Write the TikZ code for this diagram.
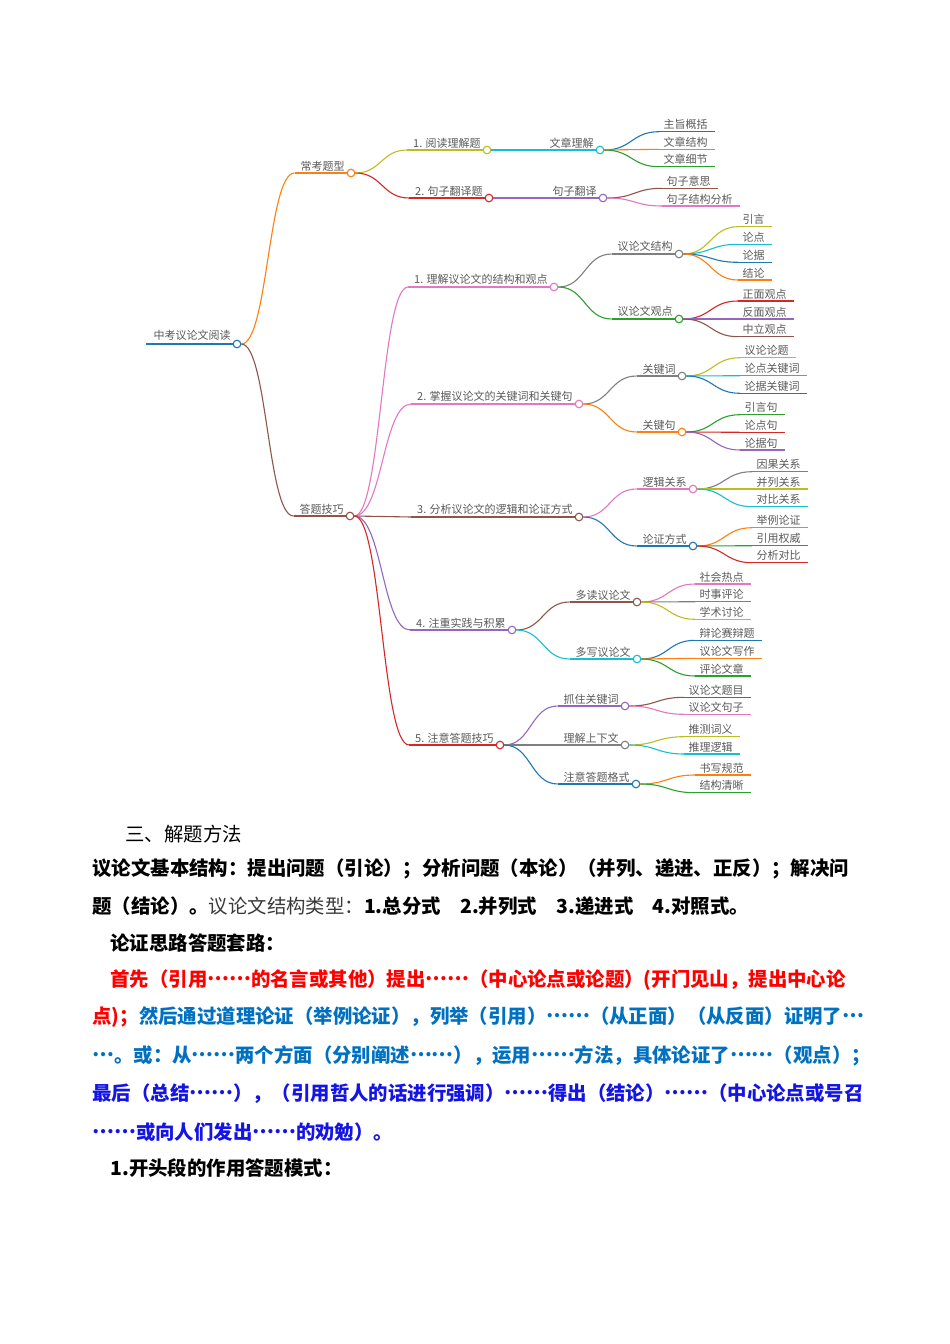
\documentclass[tikz,border=0pt]{standalone}
\usepackage{fontspec}
\setmainfont{Noto Sans CJK SC}
\newfontfamily\cjk{Noto Sans CJK SC}
\newcommand{\ellip}{\raisebox{0.32em}{…}}
\usepackage{tikz}
\usetikzlibrary{positioning, calc}
\definecolor{mmblue}{HTML}{1F77B4}
\definecolor{mmorange}{HTML}{FF7F0E}
\definecolor{mmgreen}{HTML}{2CA02C}
\definecolor{mmred}{HTML}{D62728}
\definecolor{mmpurple}{HTML}{9467BD}
\definecolor{mmbrown}{HTML}{8C564B}
\definecolor{mmpink}{HTML}{E377C2}
\definecolor{mmgray}{HTML}{7F7F7F}
\definecolor{mmolive}{HTML}{BCBD22}
\definecolor{mmcyan}{HTML}{17BECF}
\definecolor{mmtext}{HTML}{5A5A5A}
\definecolor{bluetext}{HTML}{0070C0}
\definecolor{deepblue}{HTML}{1414E6}
\definecolor{softblack}{HTML}{3A3A3A}

% curved branch from a parent dot to the start of a child line
\newcommand{\mmlink}[3]{%
  \path ($(#1.east)!0.5!(#2)$) coordinate (mid);
  \draw[#3] (#1.east) .. controls (mid |- #1.east) and (mid |- #2) .. (#2);}
% topic with label, underline and dot
\newcommand{\mmtopic}[5]{%
  \node[dot, draw=#4] (#1) at (#2,#3) {};
  \node[mmlabel, anchor=south east] (#1t) at (#1.west) {#5};
  \coordinate (#1s) at ([xshift=-4pt]#1t.south west);
  \draw[#4] (#1s) -- (#1.west);}

\begin{document}
\begin{tikzpicture}[x=1pt, y=-1pt, line width=1.1pt,
    dot/.style={circle, fill=white, inner sep=0pt, minimum size=7.6pt},
    mmlabel/.style={font=\cjk\fontsize{11}{13}\selectfont, text=mmtext, inner xsep=1.5pt, inner ysep=1.5pt},
    leaf/.style={mmlabel, anchor=south west, inner xsep=4pt},
    para/.style={anchor=west, inner sep=0pt, font=\cjk\fontsize{19.4}{23}\selectfont}]
    \useasboundingbox (0,0) rectangle (950,1344);
    \fill[white] (0,0) rectangle (950,1344);

    % Root
    \node[dot, draw=mmblue] (root) at (237,344) {};
    \node[mmlabel, anchor=south east] (roott) at ([yshift=1pt]root.west) {中考议论文阅读};
    \draw[mmblue, line width=2.8pt] (146,344) -- (root.west);

    % First level
    \mmtopic{ckt}{351}{173}{mmorange}{常考题型}
    \mmtopic{dtjq}{350}{516}{mmbrown}{答题技巧}
    \mmlink{root}{ckts}{mmorange}
    \mmlink{root}{dtjqs}{mmbrown}

    % Question types
    \mmtopic{ydlj}{487}{150}{mmolive}{1. 阅读理解题}
    \mmtopic{jzfy}{489}{198}{mmred}{2. 句子翻译题}
    \mmlink{ckt}{ydljs}{mmolive}
    \mmlink{ckt}{jzfys}{mmred}
    \mmtopic{wzlj}{600}{150}{mmcyan}{文章理解}
    \mmtopic{jzfyb}{603}{198}{mmpurple}{句子翻译}
    \mmlink{ydlj}{wzljs}{mmcyan}
    \mmlink{jzfy}{jzfybs}{mmpurple}
    \foreach \n/\y/\c/\t in {a1/131.7/mmblue/主旨概括, a2/149.3/mmorange/文章结构, a3/166.7/mmgreen/文章细节}{
        \node[leaf] (\n) at (659,\y) {\t};
        \draw[\c] (\n.south west) -- ([xshift=3pt]\n.south east);
        \mmlink{wzlj}{\n.south west}{\c}
    }
    \foreach \n/\y/\c/\t in {b1/188.3/mmbrown/句子意思, b2/206/mmpink/句子结构分析}{
        \node[leaf] (\n) at (662,\y) {\t};
        \draw[\c] (\n.south west) -- ([xshift=3pt]\n.south east);
        \mmlink{jzfyb}{\n.south west}{\c}
    }

    % Answering skills
    \mmtopic{lj1}{554}{287}{mmpink}{1. 理解议论文的结构和观点}
    \mmtopic{lj2}{579}{404}{mmpink}{2. 掌握议论文的关键词和关键句}
    \mmtopic{lj3}{579}{517}{mmbrown}{3. 分析议论文的逻辑和论证方式}
    \mmtopic{lj4}{512}{630}{mmpurple}{4. 注重实践与积累}
    \mmtopic{lj5}{500}{745}{mmred}{5. 注意答题技巧}
    \foreach \k/\c in {lj1/mmpink, lj2/mmpink, lj3/mmbrown, lj4/mmpurple, lj5/mmred}{
        \mmlink{dtjq}{\k s}{\c}
    }

    % 1. structure and viewpoints
    \mmtopic{jg}{679}{254}{mmgray}{议论文结构}
    \mmtopic{gd}{679}{319}{mmgreen}{议论文观点}
    \mmlink{lj1}{jgs}{mmgray}
    \mmlink{lj1}{gds}{mmgreen}
    \foreach \n/\y/\c/\t in {c1/226.7/mmolive/引言, c2/244.3/mmcyan/论点, c3/262.3/mmblue/论据, c4/280/mmorange/结论}{
        \node[leaf] (\n) at (738,\y) {\t};
        \draw[\c] (\n.south west) -- ([xshift=3pt]\n.south east);
        \mmlink{jg}{\n.south west}{\c}
    }
    \foreach \n/\y/\c/\t in {d1/301/mmred/正面观点, d2/319/mmpurple/反面观点, d3/336.7/mmbrown/中立观点}{
        \node[leaf] (\n) at (738,\y) {\t};
        \draw[\c] (\n.south west) -- ([xshift=3pt]\n.south east);
        \mmlink{gd}{\n.south west}{\c}
    }

    % 2. key words and sentences
    \mmtopic{gjc}{682}{376}{mmgray}{关键词}
    \mmtopic{gjj}{682}{432}{mmorange}{关键句}
    \mmlink{lj2}{gjcs}{mmgray}
    \mmlink{lj2}{gjjs}{mmorange}
    \foreach \n/\y/\c/\t in {e1/357.7/mmolive/议论论题, e2/375.7/mmcyan/论点关键词, e3/393.3/mmblue/论据关键词}{
        \node[leaf] (\n) at (740,\y) {\t};
        \draw[\c] (\n.south west) -- ([xshift=3pt]\n.south east);
        \mmlink{gjc}{\n.south west}{\c}
    }
    \foreach \n/\y/\c/\t in {f1/414.7/mmgreen/引言句, f2/432.3/mmred/论点句, f3/450/mmpurple/论据句}{
        \node[leaf] (\n) at (740,\y) {\t};
        \draw[\c] (\n.south west) -- ([xshift=3pt]\n.south east);
        \mmlink{gjj}{\n.south west}{\c}
    }

    % 3. logic and argument
    \mmtopic{ljgx}{693}{489}{mmpink}{逻辑关系}
    \mmtopic{lzfs}{693}{546}{mmblue}{论证方式}
    \mmlink{lj3}{ljgxs}{mmpink}
    \mmlink{lj3}{lzfss}{mmblue}
    \foreach \n/\y/\c/\t in {g1/471.7/mmgray/因果关系, g2/489/mmolive/并列关系, g3/506.7/mmcyan/对比关系}{
        \node[leaf] (\n) at (752,\y) {\t};
        \draw[\c] (\n.south west) -- ([xshift=3pt]\n.south east);
        \mmlink{ljgx}{\n.south west}{\c}
    }
    \foreach \n/\y/\c/\t in {h1/527.7/mmorange/举例论证, h2/545.7/mmgreen/引用权威, h3/562.7/mmred/分析对比}{
        \node[leaf] (\n) at (752,\y) {\t};
        \draw[\c] (\n.south west) -- ([xshift=3pt]\n.south east);
        \mmlink{lzfs}{\n.south west}{\c}
    }

    % 4. practice
    \mmtopic{dd}{637}{602}{mmbrown}{多读议论文}
    \mmtopic{dx}{637}{659}{mmcyan}{多写议论文}
    \mmlink{lj4}{dds}{mmbrown}
    \mmlink{lj4}{dxs}{mmcyan}
    \foreach \n/\y/\c/\t in {i1/584/mmpink/社会热点, i2/601.7/mmgray/时事评论, i3/619.3/mmolive/学术讨论}{
        \node[leaf] (\n) at (695,\y) {\t};
        \draw[\c] (\n.south west) -- ([xshift=3pt]\n.south east);
        \mmlink{dd}{\n.south west}{\c}
    }
    \foreach \n/\y/\c/\t in {j1/640.3/mmblue/辩论赛辩题, j2/658.3/mmorange/议论文写作, j3/676/mmgreen/评论文章}{
        \node[leaf] (\n) at (695,\y) {\t};
        \draw[\c] (\n.south west) -- ([xshift=3pt]\n.south east);
        \mmlink{dx}{\n.south west}{\c}
    }

    % 5. answering
    \mmtopic{zz}{625}{706}{mmpurple}{抓住关键词}
    \mmtopic{lj}{625}{745}{mmgray}{理解上下文}
    \mmtopic{gs}{636}{784}{mmblue}{注意答题格式}
    \mmlink{lj5}{zzs}{mmpurple}
    \mmlink{lj5}{ljs}{mmgray}
    \mmlink{lj5}{gss}{mmblue}
    \foreach \n/\y/\c/\t in {k1/697.3/mmbrown/议论文题目, k2/714.3/mmpink/议论文句子}{
        \node[leaf] (\n) at (684,\y) {\t};
        \draw[\c] (\n.south west) -- ([xshift=3pt]\n.south east);
        \mmlink{zz}{\n.south west}{\c}
    }
    \foreach \n/\y/\c/\t in {l1/736.7/mmolive/推测词义, l2/754/mmcyan/推理逻辑}{
        \node[leaf] (\n) at (684,\y) {\t};
        \draw[\c] (\n.south west) -- ([xshift=3pt]\n.south east);
        \mmlink{lj}{\n.south west}{\c}
    }
    \foreach \n/\y/\c/\t in {m1/775/mmorange/书写规范, m2/792.7/mmgreen/结构清晰}{
        \node[leaf] (\n) at (695,\y) {\t};
        \draw[\c] (\n.south west) -- ([xshift=3pt]\n.south east);
        \mmlink{gs}{\n.south west}{\c}
    }

    % Text below the map
    \node[para] (p0) at (125,834) {三、解题方法};
    \node[para] (p1) at (92,869) {\bfseries 议论文基本结构：提出问题（引论）；分析问题（本论）（并列、递进、正反）；解决问};
    \node[para] (p2) at (92,906) {{\bfseries 题（结论）。}{\color{softblack}议论文结构类型：}{\bfseries 1.总分式\hspace{1em}2.并列式\hspace{1em}3.递进式\hspace{1em}4.对照式。}};
    \node[para] (p3) at (110,943) {\bfseries 论证思路答题套路：};
    \node[para, text=red] (p4) at (110,980) {\bfseries 首先（引用\ellip\ellip 的名言或其他）提出\ellip\ellip（中心论点或论题）(开门见山，提出中心论};
    \node[para] (p5) at (92,1017) {\bfseries{\color{red}点)；}{\color{bluetext}然后通过道理论证（举例论证），列举（引用）\ellip\ellip（从正面）（从反面）证明了\ellip}};
    \node[para, text=bluetext] (p6) at (92,1056) {\bfseries \ellip 。或：从\ellip\ellip 两个方面（分别阐述\ellip\ellip），运用\ellip\ellip 方法，具体论证了\ellip\ellip（观点）；};
    \node[para, text=deepblue] (p7) at (92,1094) {\bfseries 最后（总结\ellip\ellip），（引用哲人的话进行强调）\ellip\ellip 得出（结论）\ellip\ellip（中心论点或号召};
    \node[para, text=deepblue] (p8) at (92,1132) {\bfseries \ellip\ellip 或向人们发出\ellip\ellip 的劝勉）。};
    \node[para] (p9) at (110,1168) {\bfseries 1.开头段的作用答题模式：};
\end{tikzpicture}
\end{document}
